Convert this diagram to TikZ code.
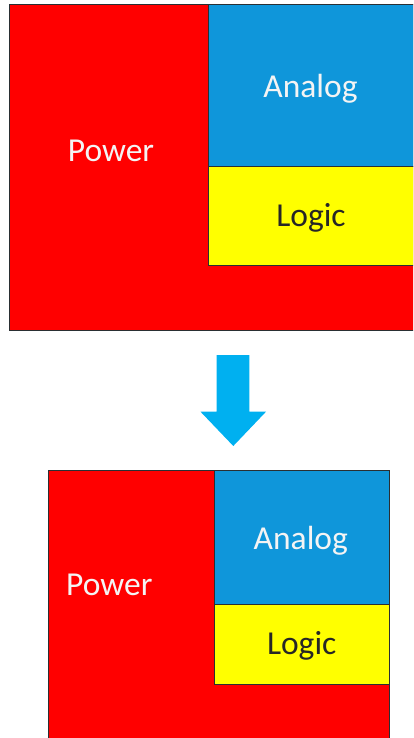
\documentclass[tikz,border=0pt]{standalone}
\usepackage{fontspec}
\setmainfont{Carlito}
\definecolor{pwr}{HTML}{FF0000}
\definecolor{ana}{HTML}{0F96DA}
\definecolor{lgc}{HTML}{FFFF00}
\definecolor{edge}{HTML}{2A2F33}
\definecolor{arr}{HTML}{00B0F0}
\definecolor{lighttxt}{HTML}{F4F4F4}
\definecolor{darktxt}{HTML}{262626}
\tikzset{
  blk/.style={draw=edge, line width=1pt},
  lbl/.style={anchor=base, inner sep=0pt, font=\fontsize{33.5}{40}\selectfont},
}
\begin{document}
\begin{tikzpicture}[x=1pt,y=-1pt]
\useasboundingbox (0,0) rectangle (413,738);
\clip (0,0) rectangle (413,738);
% top block
\draw[blk, fill=pwr] (9,5) rectangle (416,330);
\draw[blk, fill=ana] (208,5) rectangle (416,167);
\draw[blk, fill=lgc] (208,167) rectangle (416,265);
\node[lbl, text=lighttxt] (p1) at (111,161.7) {Power};
\node[lbl, text=lighttxt] (a1) at (310.5,97.3) {Analog};
\node[lbl, text=darktxt] (l1) at (311,226.7) {Logic};
% arrow
\fill[arr] (216.7,355) -- (249.3,355) -- (249.3,411.7) -- (266,411.7) -- (233.3,446) -- (200.5,411.7) -- (216.7,411.7) -- cycle;
% bottom block
\draw[blk, fill=pwr] (48.3,470) rectangle (389.3,742);
\draw[blk, fill=ana] (214.3,470) rectangle (389.3,604);
\draw[blk, fill=lgc] (214.3,604) rectangle (389.3,684.3);
\node[lbl, text=lighttxt] (p2) at (109.3,595) {Power};
\node[lbl, text=lighttxt] (a2) at (300.8,549.3) {Analog};
\node[lbl, text=darktxt] (l2) at (301.7,654.3) {Logic};
\end{tikzpicture}
\end{document}
